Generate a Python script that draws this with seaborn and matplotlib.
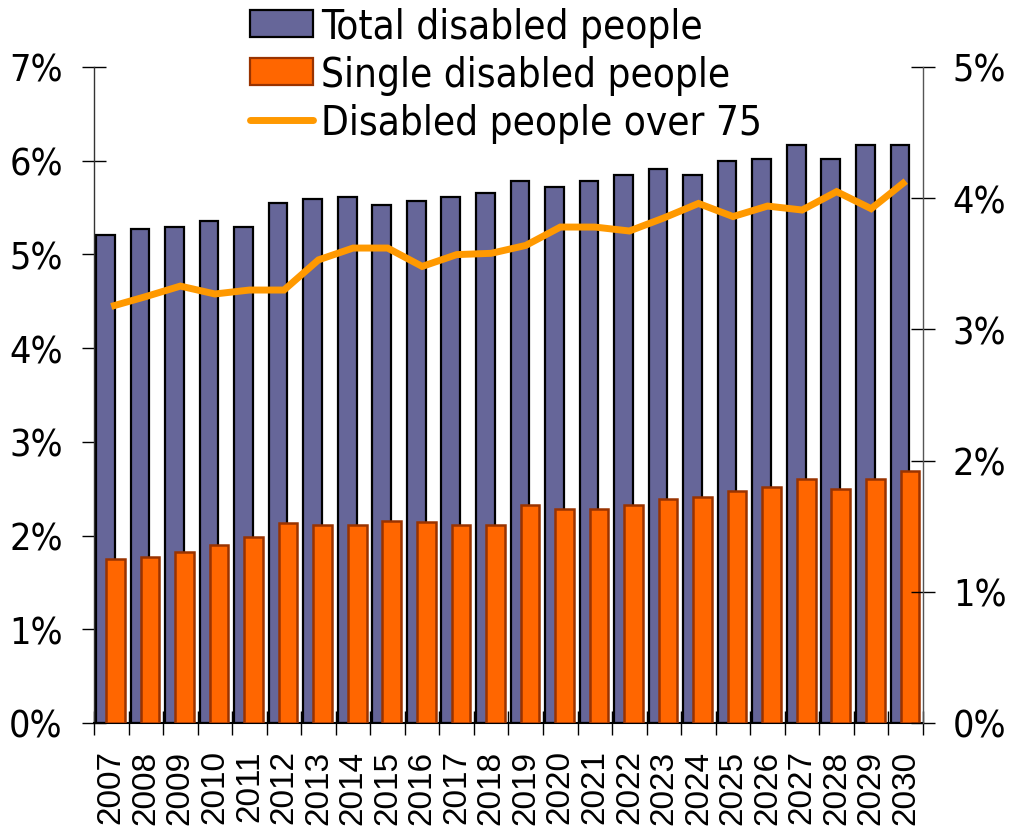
import numpy as np
import pandas as pd
import matplotlib
matplotlib.use("Agg")
import matplotlib.pyplot as plt
from matplotlib import font_manager
from matplotlib.patches import Patch
from matplotlib.lines import Line2D
from matplotlib.ticker import FixedLocator, PercentFormatter
import seaborn as sns

years = [str(y) for y in range(2007, 2031)]
total_disabled = [5.21, 5.27, 5.29, 5.36, 5.29, 5.55, 5.59, 5.61, 5.53, 5.57, 5.61, 5.66,
                  5.78, 5.72, 5.78, 5.85, 5.91, 5.85, 6.00, 6.02, 6.17, 6.02, 6.17, 6.17]
single_disabled = [1.75, 1.77, 1.82, 1.90, 1.98, 2.13, 2.11, 2.11, 2.16, 2.14, 2.11, 2.11,
                   2.33, 2.28, 2.28, 2.33, 2.39, 2.41, 2.48, 2.52, 2.60, 2.50, 2.60, 2.69]
over_75 = [3.175, 3.25, 3.33, 3.27, 3.30, 3.30, 3.53, 3.62, 3.62, 3.48, 3.57, 3.58,
           3.64, 3.78, 3.78, 3.75, 3.85, 3.96, 3.86, 3.94, 3.91, 4.05, 3.92, 4.13]
series_names = ["Total disabled people", "Single disabled people", "Disabled people over 75"]

PURPLE = "#666699"
ORANGE = "#FF6600"
ORANGE_EDGE = "#993300"
LINE = "#FF9900"

sns.set_theme(style="white")
names = {f.name for f in font_manager.fontManager.ttflist}
if "Liberation Sans Narrow" in names:
    plt.rcParams["font.family"] = ["Liberation Sans Narrow", "DejaVu Sans"]
else:
    plt.rcParams["font.family"] = ["DejaVu Sans"]
    plt.rcParams["font.stretch"] = "condensed"
plt.rcParams["text.color"] = "black"
plt.rcParams["xtick.color"] = "black"
plt.rcParams["ytick.color"] = "black"
plt.rcParams["xtick.labelcolor"] = "black"
plt.rcParams["ytick.labelcolor"] = "black"

df = pd.DataFrame({"year": years, "total": total_disabled,
                   "single": single_disabled, "over75": over_75})

fig = plt.figure(figsize=(10.18, 8.29), dpi=100)
ax = fig.add_axes([94 / 1018, 1 - 724 / 829, (923 - 94) / 1018, (724 - 68) / 829])

# Total (purple) bars, shifted left
n0 = len(ax.patches)
sns.barplot(data=df, x="year", y="total", color=PURPLE, saturation=1, width=0.54,
            edgecolor="black", linewidth=1.6, ax=ax, zorder=2)
for p in ax.patches[n0:]:
    p.set_x(p.get_x() - 0.17)

# Single (orange) bars, shifted right
n1 = len(ax.patches)
sns.barplot(data=df, x="year", y="single", color=ORANGE, saturation=1, width=0.54,
            edgecolor=ORANGE_EDGE, linewidth=1.8, ax=ax, zorder=3)
for p in ax.patches[n1:]:
    p.set_x(p.get_x() + 0.12)

n = len(years)
ax.set_xlim(-0.5, n - 0.5)
ax.set_ylim(0, 7)
ax.set_xlabel("")
ax.set_ylabel("")
ax.yaxis.set_major_locator(FixedLocator(range(0, 8)))
ax.yaxis.set_major_formatter(PercentFormatter(decimals=0))
ax.set_xticks(range(n))
ax.set_xticklabels(years, rotation=90, fontsize=24, color="black",
                   fontfamily="Liberation Sans", fontstretch="normal")
ax.xaxis.set_minor_locator(FixedLocator(np.arange(-0.5, n, 1.0)))
ax.tick_params(axis="x", which="major", length=0, pad=19)
ax.tick_params(axis="x", which="minor", direction="inout", length=17, width=1, color="black", bottom=True)
ax.tick_params(axis="y", which="major", direction="inout", length=17, width=1, color="black",
               labelsize=27, labelcolor="black", pad=14, left=True)
for s in ["top", "right"]:
    ax.spines[s].set_visible(False)
ax.spines["left"].set_color("#333333")
ax.spines["left"].set_linewidth(1)
ax.spines["bottom"].set_color("black")
ax.spines["bottom"].set_linewidth(1.5)

# Line on secondary axis
ax2 = ax.twinx()
sns.lineplot(x=np.arange(n), y=over_75, color=LINE, linewidth=5, ax=ax2,
             solid_joinstyle="miter", solid_capstyle="butt")
ax2.set_ylim(0, 5)
ax2.set_xlim(-0.5, n - 0.5)
ax2.yaxis.set_major_locator(FixedLocator(range(0, 6)))
ax2.yaxis.set_major_formatter(PercentFormatter(decimals=0))
ax2.tick_params(axis="y", which="major", direction="inout", length=17, width=1, color="black",
                labelsize=27, labelcolor="black", pad=13, right=True)
for s in ["top", "left", "bottom"]:
    ax2.spines[s].set_visible(False)
ax2.spines["right"].set_color("#555555")
ax2.spines["right"].set_linewidth(1)
ax2.set_ylabel("")
ax2.set_xlabel("")

handles = [Patch(facecolor=PURPLE, edgecolor="black", linewidth=1.6),
           Patch(facecolor=ORANGE, edgecolor=ORANGE_EDGE, linewidth=1.6),
           Line2D([], [], color=LINE, linewidth=5)]
fig.legend(handles, series_names, loc="upper center", bbox_to_anchor=(0.497, 1.01),
           frameon=False, fontsize=29, handlelength=1.55, handleheight=0.65,
           handletextpad=0.2, labelspacing=0.2, borderaxespad=0, labelcolor="black")

fig.savefig("out.png", dpi=100)
